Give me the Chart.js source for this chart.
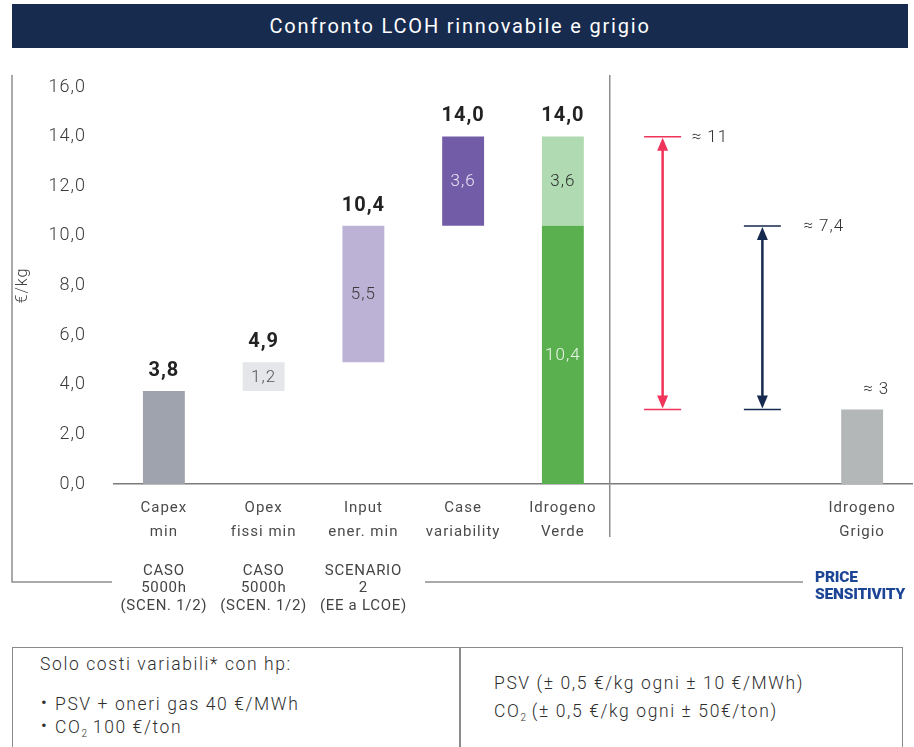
<!DOCTYPE html>
<html lang="it">
<head>
<meta charset="utf-8">
<title>Confronto LCOH rinnovabile e grigio</title>
<script src="https://cdn.jsdelivr.net/npm/chart.js@4.4.1/dist/chart.umd.min.js"></script>
<style>
  html, body { margin: 0; padding: 0; background: #fff; }
  body { position: relative; width: 914px; height: 747px; overflow: hidden; font-family: Roboto, "Noto Sans", sans-serif; color: #333; }
  #title { position: absolute; left: 12px; top: 4px; width: 896px; height: 44px; background: #172b4f; color: #fff;
           font-size: 20px; font-weight: 400; letter-spacing: 1.8px; line-height: 44px; text-align: center; }
  #lcoh-chart { position: absolute; left: 0; top: 0; }
  #badge { position: absolute; left: 815px; top: 569px; color: #1d4595; font-weight: 900; font-size: 15.5px;
           line-height: 17px; letter-spacing: -0.2px; }
  #notes { position: absolute; left: 12px; top: 647px; width: 891px; height: 110px; box-sizing: border-box;
           border: 1.5px solid #8a8a8a; border-bottom: none; font-size: 17.5px; font-weight: 300; letter-spacing: 1.6px; color: #2e2e2e; }
  #notes div { position: absolute; white-space: nowrap; line-height: 20px; }
  #notes .divider { left: 446px; top: 0; width: 1.5px; height: 110px; background: #8a8a8a; }
  #notes .dot { display: inline-block; width: 14px; font-size: 17px; font-weight: 400; letter-spacing: 0; vertical-align: 2px; }
  sub { font-size: 10px; vertical-align: -4px; line-height: 0; letter-spacing: 0; }
</style>
</head>
<body>
<div id="title">Confronto LCOH rinnovabile e grigio</div>
<canvas id="lcoh-chart" width="914" height="620"></canvas>
<div id="badge">PRICE<br>SENSITIVITY</div>
<div id="notes">
  <div style="left:27px; top:6px;">Solo costi variabili* con hp:</div>
  <div style="left:28px; top:44px;"><span class="dot">&bull;</span>PSV + oneri gas 40 €/MWh</div>
  <div style="left:28px; top:67px;"><span class="dot">&bull;</span>CO<sub>2</sub> 100 €/ton</div>
  <div class="divider"></div>
  <div style="left:481px; top:25px;">PSV (± 0,5 €/kg ogni ± 10 €/MWh)</div>
  <div style="left:481px; top:53px;">CO<sub>2</sub> (± 0,5 €/kg ogni ± 50€/ton)</div>
</div>

<script>
// categories on the x axis (two empty slots hold the sensitivity arrows)
const categories = [
    ['Capex', 'min'], ['Opex', 'fissi min'], ['Input', 'ener. min'],
    ['Case', 'variability'], ['Idrogeno', 'Verde'], '', '', ['Idrogeno', 'Grigio']
];
const scenarioNotes = [
    ['CASO', '5000h', '(SCEN. 1/2)'],
    ['CASO', '5000h', '(SCEN. 1/2)'],
    ['SCENARIO', '2', '(EE a LCOE)']
];

// cost build-up of green hydrogen, €/kg
const costSteps = [3.75, 1.16, 5.5, 3.6];   // capex, opex fissi, input energia, variabilità
const greyValue = 3.0;                      // idrogeno grigio

// price sensitivity ranges (from grey H2 up to the green cases)
const sensitivityCats = [5, 6];
const sensitivityFrom = [3.0, 3.0];
const sensitivityTo   = [14.0, 10.4];

// y axis
const yMin = 0;
const yMax = 16;
const yStep = 2;

// colours
const stepColors   = ['#9ea3ae', '#e5e6ea', '#bcb2d5', '#725ca8'];
const stepText     = [null, '#555555', '#3a3a3a', '#ebe6f4'];
const greenLow     = '#5ab04f';
const greenHigh    = '#b0dab1';
const greyColor    = '#b4b7b8';
const arrowColors  = ['#f03358', '#16294e'];
const arrowLabelDx = [29, 41];

const fmt = v => v.toFixed(1).replace('.', ',');
const fmtApprox = v => {
    const s = v.toFixed(1);
    return (s.endsWith('.0') ? s.slice(0, -2) : s).replace('.', ',');
};

// floating bars for the waterfall
const lowerBars = categories.map(() => null);
const upperBars = categories.map(() => null);
const lowerColors = categories.map(() => 'rgba(0,0,0,0)');
let run = 0;
costSteps.forEach((v, i) => {
    lowerBars[i] = [run, run + v];
    lowerColors[i] = stepColors[i];
    run += v;
});
const greenBase = costSteps[0] + costSteps[1] + costSteps[2];
lowerBars[4] = [0, greenBase];
lowerColors[4] = greenLow;
upperBars[4] = [greenBase, greenBase + costSteps[3]];
lowerBars[7] = [0, greyValue];
lowerColors[7] = greyColor;

function text(ctx, str, x, y, font, color, align, spacing) {
    ctx.font = font;
    ctx.fillStyle = color;
    ctx.textAlign = align || 'center';
    ctx.textBaseline = 'middle';
    ctx.letterSpacing = spacing || '1px';
    ctx.fillText(str, x, y);
}

const framePlugin = {
    id: 'frame',
    beforeDraw(chart) {
        chart.ctx.letterSpacing = '1px';
    },
    beforeDatasetsDraw(chart) {
        const ctx = chart.ctx;
        const xs = chart.scales.x;
        ctx.save();
        ctx.strokeStyle = '#8e8e8e';
        ctx.lineWidth = 1.5;
        ctx.beginPath();
        // outer frame, open where the scenario notes sit
        ctx.moveTo(12, 75);
        ctx.lineTo(12, 582);
        ctx.lineTo(112, 582);
        ctx.moveTo(425, 582);
        ctx.lineTo(803, 582);
        // divider between the green build-up and the sensitivity part
        const sep = (xs.getPixelForValue(4) + xs.getPixelForValue(5)) / 2 - 3;
        ctx.moveTo(sep, 75);
        ctx.lineTo(sep, 537);
        ctx.stroke();
        ctx.restore();
    },
    afterDatasetsDraw(chart) {
        const ctx = chart.ctx;
        const xs = chart.scales.x;
        const ys = chart.scales.y;
        const low = chart.getDatasetMeta(0).data;
        const up = chart.getDatasetMeta(1).data;
        ctx.save();

        // values inside the bars
        costSteps.forEach((v, i) => {
            if (!stepText[i]) return;
            const bar = low[i];
            text(ctx, fmt(v), bar.x, (bar.y + bar.base) / 2 + 1, '300 17px Roboto', stepText[i]);
        });
        text(ctx, fmt(greenBase), low[4].x, (low[4].y + low[4].base) / 2 + 1, '300 17px Roboto', '#eef7ec');
        text(ctx, fmt(costSteps[3]), up[4].x, (up[4].y + up[4].base) / 2 + 1, '300 17px Roboto', '#2e2e2e');

        // running totals above the bars
        for (let i = 0; i < 5; i++) {
            const top = i === 4 ? upperBars[4][1] : lowerBars[i][1];
            const bar = i === 4 ? up[4] : low[i];
            text(ctx, fmt(top), bar.x, bar.y - 20, 'bold 20px Roboto', '#222222');
        }

        // grey hydrogen value
        text(ctx, '≈ ' + fmtApprox(greyValue), low[7].x + 1, low[7].y - 20, '300 17px Roboto', '#333333', 'left');

        // sensitivity arrows
        sensitivityCats.forEach((c, i) => {
            const x = xs.getPixelForValue(c);
            const yTop = ys.getPixelForValue(sensitivityTo[i]);
            const yBot = ys.getPixelForValue(sensitivityFrom[i]);
            ctx.strokeStyle = arrowColors[i];
            ctx.fillStyle = arrowColors[i];
            ctx.lineWidth = 1.5;
            ctx.beginPath();
            ctx.moveTo(x - 18.5, yTop);
            ctx.lineTo(x + 18.5, yTop);
            ctx.moveTo(x - 18.5, yBot);
            ctx.lineTo(x + 18.5, yBot);
            ctx.stroke();
            ctx.lineWidth = 2.5;
            ctx.beginPath();
            ctx.moveTo(x, yTop + 10);
            ctx.lineTo(x, yBot - 10);
            ctx.stroke();
            [[yTop, 1], [yBot, -1]].forEach(([y, dir]) => {
                ctx.beginPath();
                ctx.moveTo(x, y + dir);
                ctx.lineTo(x - 5.5, y + dir * 14);
                ctx.lineTo(x + 5.5, y + dir * 14);
                ctx.closePath();
                ctx.fill();
            });
            const diff = sensitivityTo[i] - sensitivityFrom[i];
            text(ctx, '≈ ' + fmtApprox(diff), x + arrowLabelDx[i], yTop + 1, '300 17px Roboto', '#333333', 'left');
        });

        // scenario notes under the first three categories
        scenarioNotes.forEach((lines, i) => {
            const x = xs.getPixelForValue(i);
            lines.forEach((line, j) => {
                text(ctx, line, x, 571 + j * 17.5, '400 15px Roboto', '#444444', 'center', '0.7px');
            });
        });
        ctx.restore();
    }
};

const ctx = document.getElementById('lcoh-chart').getContext('2d');
const lcohChart = new Chart(ctx, {
    type: 'bar',
    data: {
        labels: categories,
        datasets: [
            {
                label: 'LCOH',
                data: lowerBars,
                backgroundColor: lowerColors,
                borderWidth: 0
            },
            {
                label: 'Variabilità',
                data: upperBars,
                backgroundColor: greenHigh,
                borderWidth: 0
            }
        ]
    },
    options: {
        responsive: false,
        animation: false,
        devicePixelRatio: 1,
        layout: { padding: { left: 0, right: 2, top: 87, bottom: 0 } },
        datasets: { bar: { grouped: false, categoryPercentage: 1, barPercentage: 0.42 } },
        plugins: {
            legend: { display: false },
            tooltip: { enabled: false }
        },
        scales: {
            x: {
                grid: { display: false, drawTicks: false },
                border: { display: true, color: '#7b7b7b', width: 1.5 },
                ticks: {
                    autoSkip: false,
                    maxRotation: 0,
                    padding: 12,
                    color: '#4a4a4a',
                    font: { family: 'Roboto', size: 15, weight: '400', lineHeight: 1.6 }
                },
                afterFit(scale) { scale.height = 136; }
            },
            y: {
                min: yMin,
                max: yMax,
                grid: { display: false, drawTicks: false },
                border: { display: false },
                ticks: {
                    stepSize: yStep,
                    padding: 28,
                    color: '#3c3c3c',
                    font: { family: 'Roboto', size: 18, weight: '300' },
                    callback: v => fmt(v)
                },
                title: {
                    display: true,
                    text: '€/kg',
                    color: '#444444',
                    font: { family: 'Roboto', size: 16, weight: '300' },
                    padding: { top: 13, bottom: 0 }
                },
                afterFit(scale) { scale.width = 114; }
            }
        }
    },
    plugins: [framePlugin]
});
</script>
</body>
</html>
